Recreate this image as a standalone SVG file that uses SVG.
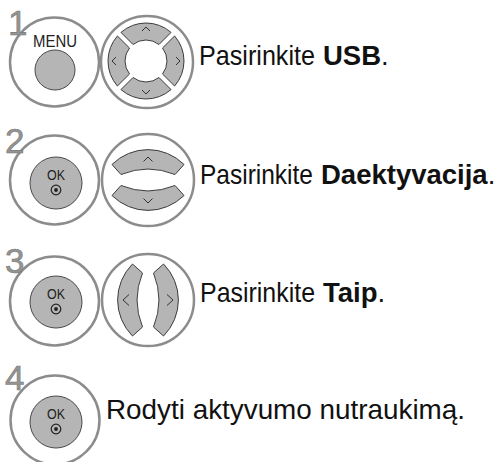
<svg xmlns="http://www.w3.org/2000/svg" width="495" height="462" viewBox="0 0 495 462">
<style>
.ring{fill:#fff;stroke:#8c8c8c;stroke-width:2.5}
.btn{fill:#b5b5b5;stroke:#4a4a4a;stroke-width:1}
.seg{fill:#b5b5b5;stroke:#3c3c3c;stroke-width:1;stroke-linejoin:miter}
.chev{fill:none;stroke:#333;stroke-width:1}
.num{font-family:"Liberation Sans",Arial,sans-serif;font-size:35px;fill:#949494;stroke:#7a7a7a;stroke-width:0.6}
.lbl{font-family:"Liberation Sans",Arial,sans-serif;font-size:27.5px;fill:#111}
.b{font-weight:bold}
.n{font-weight:normal}
.small{font-family:"Liberation Sans",Arial,sans-serif;fill:#222;text-anchor:middle}
</style>
<defs>
<path id="q" class="seg" d="M -25.04,-28.58 A 38 38 0 0 1 25.04,-28.58 L 12.97,-16.51 A 21 21 0 0 0 -12.97,-16.51 Z"/>
<path id="arc" class="seg" d="M -36,-15.5 A 51 51 0 0 1 36,-15.5 L 27,-5.5 A 72 72 0 0 0 -27,-5.5 Z"/>
<g id="okmark">
<text class="small" x="0" y="-3" font-size="14" textLength="18" lengthAdjust="spacingAndGlyphs">OK</text>
<circle cx="0" cy="7" r="4.8" fill="none" stroke="#222" stroke-width="1.2"/>
<circle cx="0" cy="7" r="1.9" fill="#222"/>
</g>
</defs>

<g id="step1">
<circle class="ring" cx="54.5" cy="62" r="44.5"/>
<text class="num" x="8" y="35">1</text>
<g id="menu-button">
<text class="small" x="55" y="46.5" font-size="16" textLength="44" lengthAdjust="spacingAndGlyphs">MENU</text>
<circle class="btn" cx="55" cy="70" r="20"/>
</g>
<g id="nav-4way">
<circle class="ring" cx="147" cy="62" r="46"/>
<g transform="translate(146,61)">
<use href="#q"/>
<use href="#q" transform="rotate(90)"/>
<use href="#q" transform="rotate(180)"/>
<use href="#q" transform="rotate(270)"/>
<polyline class="chev" points="-4,-30 0,-34 4,-30"/>
<polyline class="chev" points="-4,29 0,33 4,29"/>
<polyline class="chev" points="-30,-4 -34,0 -30,4"/>
<polyline class="chev" points="30,-4 34,0 30,4"/>
</g>
</g>
<text class="lbl" x="199" y="65" textLength="116" lengthAdjust="spacingAndGlyphs">Pasirinkite</text>
<text class="lbl b" x="323" y="65">USB<tspan class="n">.</tspan></text>
</g>

<g id="step2">
<circle class="ring" cx="54.5" cy="180" r="44.5"/>
<text class="num" x="5" y="153">2</text>
<g transform="translate(56,183)">
<circle class="btn" cx="0" cy="0" r="26"/>
<use href="#okmark"/>
</g>
<g id="nav-updown">
<circle class="ring" cx="148" cy="180" r="46"/>
<g transform="translate(148,180)">
<use href="#arc"/>
<use href="#arc" transform="rotate(180)"/>
<polyline class="chev" points="-4.5,-18.5 0,-23 4.5,-18.5"/>
<polyline class="chev" points="-4.5,18.5 0,23 4.5,18.5"/>
</g>
</g>
<text class="lbl" x="200" y="184" textLength="113" lengthAdjust="spacingAndGlyphs">Pasirinkite</text>
<text class="lbl b" x="321" y="184" font-size="26.5">Daektyvacija<tspan class="n">.</tspan></text>
</g>

<g id="step3">
<circle class="ring" cx="54.5" cy="301" r="44.5"/>
<text class="num" x="5" y="273">3</text>
<g transform="translate(56,302)">
<circle class="btn" cx="0" cy="0" r="26"/>
<use href="#okmark"/>
</g>
<g id="nav-leftright">
<circle class="ring" cx="148" cy="300" r="46"/>
<g transform="translate(148,300)">
<use href="#arc" transform="rotate(-90)"/>
<use href="#arc" transform="rotate(90)"/>
<polyline class="chev" points="-19,-5.5 -25,0 -19,5.5"/>
<polyline class="chev" points="19,-5.5 25,0 19,5.5"/>
</g>
</g>
<text class="lbl" x="200" y="302" textLength="115" lengthAdjust="spacingAndGlyphs">Pasirinkite</text>
<text class="lbl b" x="323" y="302">Taip<tspan class="n">.</tspan></text>
</g>

<g id="step4">
<circle class="ring" cx="55" cy="420" r="44.5"/>
<text class="num" x="5" y="390">4</text>
<g transform="translate(56,422)">
<circle class="btn" cx="0" cy="0" r="26"/>
<use href="#okmark"/>
</g>
<text class="lbl" x="106" y="419" textLength="359" lengthAdjust="spacingAndGlyphs">Rodyti aktyvumo nutraukimą.</text>
</g>
</svg>
